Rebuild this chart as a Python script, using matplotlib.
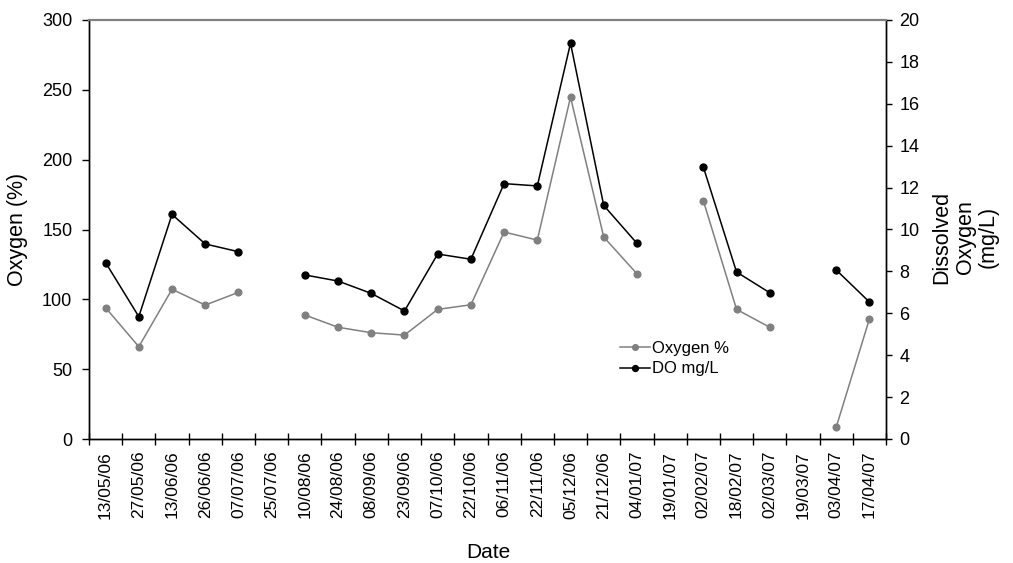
import numpy as np
import matplotlib
matplotlib.use("Agg")
import matplotlib.pyplot as plt
from matplotlib.ticker import FixedLocator, NullFormatter

plt.rcParams['font.family'] = ['Liberation Sans', 'DejaVu Sans']

dates = ["13/05/06", "27/05/06", "13/06/06", "26/06/06", "07/07/06", "25/07/06",
         "10/08/06", "24/08/06", "08/09/06", "23/09/06", "07/10/06", "22/10/06",
         "06/11/06", "22/11/06", "05/12/06", "21/12/06", "04/01/07", "19/01/07",
         "02/02/07", "18/02/07", "02/03/07", "19/03/07", "03/04/07", "17/04/07"]

oxygen_pct = [94.0, 66.1, 107.2, 95.9, 105.0, np.nan,
              88.8, 80.0, 76.1, 74.4, 92.8, 96.1,
              148.2, 142.4, 244.8, 144.6, 118.3, np.nan,
              170.6, 92.8, 80.0, np.nan, 8.4, 85.9]

do_mgl = [8.42, 5.84, 10.72, 9.31, 8.94, np.nan,
          7.83, 7.54, 6.95, 6.11, 8.83, 8.58,
          12.19, 12.08, 18.89, 11.15, 9.34, np.nan,
          12.98, 7.97, 6.98, np.nan, 8.07, 6.54]

x = np.arange(len(dates))

W, H = 1013, 563
fig = plt.figure(figsize=(W / 100, H / 100), dpi=100)
ax = fig.add_axes([89 / W, 1 - 439 / H, 797 / W, 419 / H])
ax2 = ax.twinx()

l1, = ax.plot(x, oxygen_pct, color="#808080", lw=1.1, marker="o", ms=4.8,
              label="Oxygen %")
l2, = ax2.plot(x, do_mgl, color="black", lw=1.1, marker="o", ms=5.0,
               label="DO mg/L")

ax.set_xlim(-0.5, len(dates) - 0.5)
ax.set_ylim(0, 300)
ax.set_yticks(np.arange(0, 301, 50))
ax2.set_ylim(0, 20)
ax2.set_yticks(np.arange(0, 21, 2))

# category labels centred, ticks on category boundaries
ax.set_xticks(x)
ax.set_xticklabels(dates, rotation=90, fontsize=12.5)
ax.tick_params(axis="x", which="major", length=0, pad=8.5)
ax.xaxis.set_minor_locator(FixedLocator(np.arange(-0.5, len(dates), 1.0)))
ax.xaxis.set_minor_formatter(NullFormatter())
ax.tick_params(axis="x", which="minor", direction="inout", length=9, width=1)

ax.tick_params(axis="y", direction="out", length=5, labelsize=13, width=1,
               pad=7)
ax2.tick_params(axis="y", direction="out", length=4, labelsize=13, width=1,
                pad=5.5)

for a in (ax, ax2):
    a.spines["top"].set_color("#808080")
    a.spines["top"].set_linewidth(1.5)
    for s in ("left", "right", "bottom"):
        a.spines[s].set_linewidth(1)

fig.text(18 / W, 1 - 229 / H, "Oxygen (%)", rotation=90, fontsize=15.5,
         ha="center", va="center")
fig.text(965 / W, 1 - 237 / H, "Dissolved\nOxygen\n(mg/L)", rotation=90,
         fontsize=15.5, ha="center", va="center", multialignment="center",
         linespacing=1.15)
fig.text(488 / W, 1 - 552 / H, "Date", fontsize=15, ha="center", va="center")

ax2.legend(handles=[l1, l2], loc="center left", bbox_to_anchor=(0.666, 0.192),
           frameon=False, fontsize=12, handlelength=1.8, handletextpad=0.15,
           labelspacing=0.35, borderpad=0, borderaxespad=0, markerscale=0.85)

fig.savefig("out.png", dpi=100)
